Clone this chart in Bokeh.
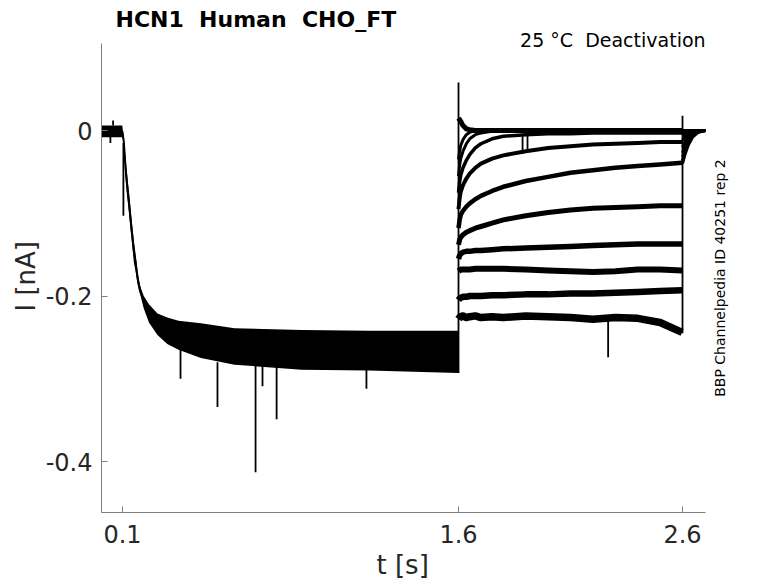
import math
from bokeh.plotting import figure
from bokeh.models import Range1d, FixedTicker, Label, Title, CustomJSTickFormatter
from bokeh.embed import file_html
from bokeh.resources import INLINE

# ---------------- data ----------------
# Holding + activating pre-pulse: all sweeps overlap; upper / lower edge of the bundle [nA]
act_time = [0.006, 0.099, 0.100, 0.106, 0.113, 0.120, 0.128, 0.136, 0.143, 0.151, 0.158,
            0.166, 0.173, 0.181, 0.195, 0.218, 0.256, 0.300, 0.350, 0.450, 0.600, 0.900,
            1.200, 1.599]
act_upper = [0.006, 0.006, 0.004, -0.010, -0.030, -0.051, -0.072, -0.094, -0.114, -0.134, -0.148,
             -0.167, -0.180, -0.190, -0.200, -0.210, -0.221, -0.226, -0.230, -0.233, -0.239, -0.241,
             -0.242, -0.242]
act_lower = [-0.008, -0.008, -0.008, -0.018, -0.056, -0.078, -0.097, -0.120, -0.137, -0.160, -0.169,
             -0.184, -0.193, -0.200, -0.215, -0.232, -0.247, -0.258, -0.265, -0.275, -0.283, -0.289,
             -0.290, -0.293]

# isolated spikes / step transients: time [s], base [nA], tip [nA]
spike_time = [0.046, 0.058, 0.104, 0.359, 0.524, 0.694, 0.725, 0.788, 1.189, 1.600, 1.886, 1.908, 2.268, 2.600]
spike_base = [-0.006, 0.006, -0.015, -0.260, -0.280, -0.280, -0.280, -0.280, -0.280, -0.293, -0.004, -0.004, -0.226, -0.245]
spike_tip = [-0.015, 0.012, -0.103, -0.300, -0.334, -0.413, -0.309, -0.349, -0.312, 0.058, -0.028, -0.024, -0.274, 0.018]

# deactivating test steps (1.6 s - 2.6 s), one list per sweep [nA]
test_time = [1.600, 1.605, 1.610, 1.620, 1.635, 1.650, 1.675, 1.700, 1.750, 1.800, 1.900, 2.000,
             2.100, 2.200, 2.300, 2.400, 2.500, 2.598]
test_currents = [
    [0.015, 0.013, 0.011, 0.006, 0.002, 0.001, 0.000, 0.000, 0.000, 0.000, 0.000, 0.000, 0.000, 0.000, 0.000, 0.000, 0.000, 0.000],
    [-0.035, -0.025, -0.018, -0.011, -0.005, -0.002, 0.000, 0.000, 0.000, 0.000, 0.000, 0.000, 0.000, 0.000, 0.000, 0.000, 0.000, 0.000],
    [-0.055, -0.042, -0.034, -0.025, -0.016, -0.010, -0.005, -0.003, -0.001, 0.000, 0.000, 0.000, 0.000, 0.000, 0.000, 0.000, 0.000, 0.000],
    [-0.075, -0.062, -0.054, -0.045, -0.036, -0.029, -0.021, -0.016, -0.010, -0.007, -0.005, -0.004, -0.004, -0.003, -0.003, -0.003, -0.003, -0.003],
    [-0.095, -0.082, -0.074, -0.066, -0.058, -0.052, -0.045, -0.040, -0.034, -0.030, -0.025, -0.021, -0.019, -0.017, -0.016, -0.015, -0.014, -0.014],
    [-0.118, -0.108, -0.102, -0.097, -0.092, -0.088, -0.083, -0.079, -0.073, -0.068, -0.061, -0.056, -0.051, -0.048, -0.045, -0.043, -0.041, -0.039],
    [-0.138, -0.132, -0.129, -0.126, -0.123, -0.121, -0.118, -0.116, -0.112, -0.108, -0.103, -0.099, -0.096, -0.094, -0.093, -0.092, -0.091, -0.091],
    [-0.155, -0.151, -0.149, -0.147, -0.146, -0.146, -0.145, -0.145, -0.144, -0.143, -0.142, -0.141, -0.140, -0.139, -0.138, -0.137, -0.137, -0.137],
    [-0.170, -0.169, -0.168, -0.168, -0.168, -0.168, -0.167, -0.167, -0.167, -0.167, -0.168, -0.169, -0.170, -0.171, -0.170, -0.168, -0.168, -0.169],
    [-0.205, -0.203, -0.202, -0.201, -0.201, -0.200, -0.200, -0.200, -0.199, -0.199, -0.198, -0.198, -0.197, -0.197, -0.196, -0.195, -0.194, -0.193],
    [-0.228, -0.226, -0.225, -0.224, -0.226, -0.225, -0.224, -0.226, -0.225, -0.226, -0.224, -0.225, -0.226, -0.228, -0.226, -0.227, -0.232, -0.244],
]

# return to holding after 2.6 s [nA]
tail_time = [2.600, 2.610, 2.625, 2.645, 2.670, 2.703]
tail_currents = [
    [0.000, 0.000, 0.000, 0.000, 0.000, 0.000],
    [-0.002, -0.001, 0.000, 0.000, 0.000, 0.000],
    [-0.004, -0.002, -0.001, 0.000, 0.000, 0.000],
    [-0.006, -0.004, -0.002, 0.000, 0.000, 0.000],
    [-0.012, -0.008, -0.004, -0.001, 0.000, 0.000],
    [-0.020, -0.014, -0.008, -0.003, 0.000, 0.000],
    [-0.027, -0.019, -0.011, -0.004, -0.001, 0.000],
    [-0.032, -0.023, -0.013, -0.005, -0.001, 0.000],
    [-0.036, -0.026, -0.015, -0.006, -0.001, 0.000],
    [-0.038, -0.028, -0.017, -0.007, -0.002, 0.000],
    [-0.040, -0.030, -0.018, -0.008, -0.002, 0.000],
]

x_ticks = [0.1, 1.6, 2.6]
y_ticks = [-0.4, -0.2, 0.0]

# axes extent (data) and text positions (data)
t_start, t_end = 0.00625, 2.703
i_low, i_high = -0.4616, 0.1051
title_y = 0.1342
condition_y = 0.1100

title_text = "HCN1 \u00a0Human \u00a0CHO_FT"
condition_text = "25 °C \u00a0Deactivation"
source_text = "BBP Channelpedia ID 40251 rep 2"
x_label = "t [s]"
y_label = "I [nA]"

# ---------------- figure ----------------
FONT = "DejaVu Sans"
p = figure(width=778, height=583, output_backend="svg", toolbar_location=None,
           title_location=None,
           x_range=Range1d(t_start, 2.8589), y_range=Range1d(i_low, 0.1511),
           min_border_left=101, min_border_right=38, min_border_top=5, min_border_bottom=71)
p.outline_line_color = None
p.xgrid.visible = False
p.ygrid.visible = False
p.background_fill_color = "white"

for ax in (p.xaxis[0], p.yaxis[0]):
    ax.axis_line_color = "#808080"
    ax.major_tick_line_color = "#808080"
    ax.minor_tick_line_color = None
    ax.major_tick_in = 6
    ax.major_tick_out = 0
    ax.major_label_text_font = FONT
    ax.major_label_text_font_size = "24px"
    ax.major_label_text_color = "#262626"
    ax.formatter = CustomJSTickFormatter(code="return tick == 0 ? '0' : tick.toFixed(1);")

p.xaxis.ticker = FixedTicker(ticks=x_ticks)
p.yaxis.ticker = FixedTicker(ticks=y_ticks)
p.xaxis.bounds = (t_start, t_end)
p.yaxis.bounds = (i_low, i_high)
p.xaxis.major_label_standoff = 12
p.yaxis.major_label_standoff = 9

p.add_layout(Title(text=x_label, align="left", offset=275, standoff=4,
                   text_font=FONT, text_font_size="26px", text_font_style="normal",
                   text_color="#262626"), "below")
p.add_layout(Title(text=y_label, align="left", offset=201, standoff=4,
                   text_font=FONT, text_font_size="26px", text_font_style="normal",
                   text_color="#262626"), "left")

# activation bundle
p.varea(x=act_time, y1=act_lower, y2=act_upper, fill_color="black")
p.line(x=act_time, y=[(a + b) / 2 for a, b in zip(act_upper, act_lower)], line_color="black", line_width=2)

# test steps and tails
widths = [5, 3, 3, 3.5, 4, 4.5, 5, 5.5, 6, 6.5, 7.5]
for vals, tvals, w in zip(test_currents, tail_currents, widths):
    p.line(x=test_time, y=vals, line_color="black", line_width=w, line_join="round")
    p.line(x=tail_time, y=tvals, line_color="black", line_width=3, line_join="round")

# spikes and step transients
p.segment(x0=spike_time, y0=spike_base, x1=spike_time, y1=spike_tip, line_color="black", line_width=1.8)

p.add_layout(Label(x=t_start, y=title_y, x_offset=14, text=title_text, text_align="left",
                   text_baseline="alphabetic", text_font=FONT, text_font_size="22px",
                   text_font_style="bold", text_color="black"))
p.add_layout(Label(x=t_end, y=condition_y, text=condition_text, text_align="right",
                   text_baseline="alphabetic", text_font=FONT, text_font_size="19px",
                   text_color="black"))
p.add_layout(Label(x=t_end, y=(i_low + i_high) / 2, x_offset=6, text=source_text, angle=math.pi / 2,
                   text_align="center", text_baseline="top", text_font=FONT,
                   text_font_size="14px", text_color="black"))

open("out.html", "w").write(file_html(p, INLINE))
